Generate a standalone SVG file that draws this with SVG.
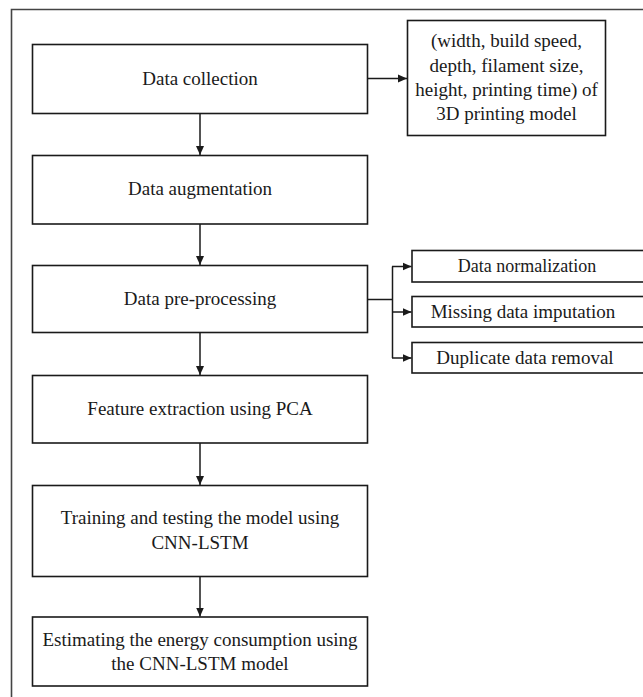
<svg xmlns="http://www.w3.org/2000/svg" width="643" height="697" viewBox="0 0 643 697">
<style>
.box{fill:#fff;stroke:#1a1a1a;stroke-width:1.6}
.t{font-family:'Liberation Serif','Times New Roman',serif;font-size:19px;fill:#1a1a1a;text-anchor:middle}
.s{font-size:18px}
.c{fill:none;stroke:#1a1a1a;stroke-width:1.5}
</style>
<defs>
<marker id="ah" markerWidth="10" markerHeight="10" refX="9" refY="5" orient="auto" markerUnits="userSpaceOnUse">
<path d="M0,1 L9,5 L0,9 Z" fill="#1a1a1a"/>
</marker>
</defs>
<rect x="0" y="0" width="643" height="697" fill="#fff"/>
<path d="M11.5,700 V9.5 H650" fill="none" stroke="#444" stroke-width="1.6"/>

<g id="n-collection"><rect class="box" x="32.5" y="44.5" width="335" height="69"/><text class="t" x="200" y="84.5">Data collection</text></g>
<g id="n-params"><rect class="box" x="407.5" y="20.5" width="198" height="115"/>
<text class="t" x="506.5" y="46.5">(width, build speed,</text>
<text class="t" x="506.5" y="71.5">depth, filament size,</text>
<text class="t" x="506.5" y="96">height, printing time) of</text>
<text class="t" x="506.5" y="120">3D printing model</text></g>
<g id="n-augmentation"><rect class="box" x="32.5" y="155.5" width="335" height="68.5"/><text class="t" x="200" y="194.5">Data augmentation</text></g>
<g id="n-preprocessing"><rect class="box" x="32.5" y="265.5" width="335" height="67"/><text class="t" x="200" y="305">Data pre-processing</text></g>
<g id="n-normalization"><rect class="box" x="412" y="250.5" width="240" height="31.5"/><text class="t s" x="527" y="272">Data normalization</text></g>
<g id="n-imputation"><rect class="box" x="412" y="296.5" width="240" height="30.5"/><text class="t" x="523" y="318">Missing data imputation</text></g>
<g id="n-duplicate"><rect class="box" x="412" y="342.5" width="240" height="30.5"/><text class="t" x="525" y="364">Duplicate data removal</text></g>
<g id="n-feature"><rect class="box" x="32.5" y="375.5" width="335" height="67.5"/><text class="t" x="200" y="415">Feature extraction using PCA</text></g>
<g id="n-training"><rect class="box" x="32.5" y="485.5" width="335" height="91"/>
<text class="t" x="200" y="523.5">Training and testing the model using</text>
<text class="t" x="200" y="548.5">CNN-LSTM</text></g>
<g id="n-estimating"><rect class="box" x="32.5" y="617" width="335" height="69"/>
<text class="t" x="200" y="645.5">Estimating the energy consumption using</text>
<text class="t" x="200" y="669.5">the CNN-LSTM model</text></g>

<g id="connectors">
<path class="c" d="M367.5,78.5 H407" marker-end="url(#ah)"/>
<path class="c" d="M200,113.5 V155" marker-end="url(#ah)"/>
<path class="c" d="M200,224 V265" marker-end="url(#ah)"/>
<path class="c" d="M200,332.5 V375" marker-end="url(#ah)"/>
<path class="c" d="M200,443 V485" marker-end="url(#ah)"/>
<path class="c" d="M200,576.5 V616.5" marker-end="url(#ah)"/>
<path class="c" d="M367.5,299.5 H392.5"/>
<path class="c" d="M392.5,266.5 V358"/>
<path class="c" d="M392,266.5 H411.5" marker-end="url(#ah)"/>
<path class="c" d="M392,312 H411.5" marker-end="url(#ah)"/>
<path class="c" d="M392,358 H411.5" marker-end="url(#ah)"/>
</g>
</svg>
